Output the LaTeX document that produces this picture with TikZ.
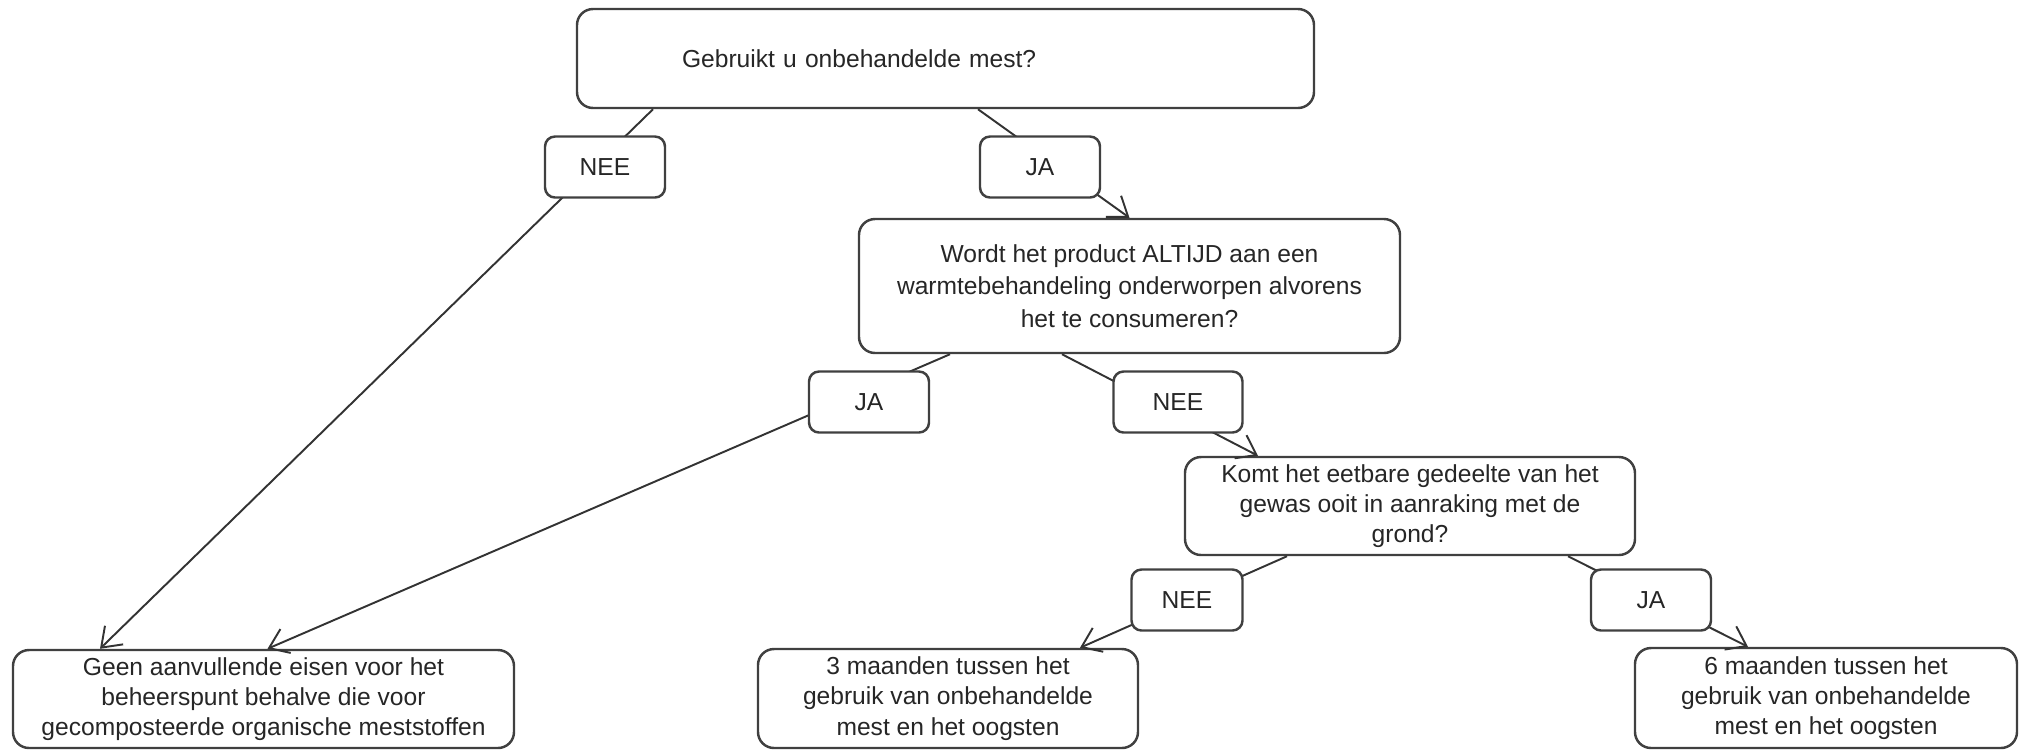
\documentclass[tikz,border=0pt]{standalone}
\usepackage{fontspec}
\setmainfont{Liberation Sans}
\usetikzlibrary{arrows.meta}

\begin{document}
\begin{tikzpicture}[x=1mm, y=-1mm, >={Straight Barb[length=1.8mm, width=2.6mm]},
  every node/.style={font=\fontsize{7}{8.6}\selectfont, text=black!85},
  question/.style={rectangle, rounded corners=1.6mm, draw=black!75, line width=0.7pt, fill=white, align=center, inner sep=0pt},
  outcome/.style={question},
  answer/.style={rectangle, rounded corners=1mm, draw=black!75, line width=0.7pt, fill=white, minimum width=12mm, minimum height=6.1mm, inner sep=0pt},
  link/.style={->, draw=black!80, line width=0.55pt}]
  \useasboundingbox (0,0) rectangle (202.6,75);

  \node[question, minimum width=73.7mm, minimum height=9.9mm, text width=52.7mm, inner xsep=10.5mm, align=left] (q1) at (94.55,5.85) {Gebruikt u onbehandelde mest?};
  \node[question, minimum width=54.1mm, minimum height=13.4mm, font=\fontsize{7}{9.2}\selectfont] (q2) at (112.95,28.6) {Wordt het product ALTIJD aan een\\warmtebehandeling onderworpen alvorens\\het te consumeren?};
  \node[question, minimum width=45mm, minimum height=9.8mm] (q3) at (141.0,50.6) {Komt het eetbare gedeelte van het\\gewas ooit in aanraking met de\\grond?};

  \node[outcome, minimum width=50.1mm, minimum height=9.8mm] (a1) at (26.35,69.9) {Geen aanvullende eisen voor het\\beheerspunt behalve die voor\\gecomposteerde organische meststoffen};
  \node[outcome, minimum width=38mm, minimum height=9.9mm] (a2) at (94.8,69.85) {3 maanden tussen het\\gebruik van onbehandelde\\mest en het oogsten};
  \node[outcome, minimum width=38.2mm, minimum height=10mm] (a3) at (182.6,69.8) {6 maanden tussen het\\gebruik van onbehandelde\\mest en het oogsten};

  \path ([xshift=-29.25mm]q1.south) edge[link] ([xshift=-16.35mm]a1.north)
        ([xshift=3.25mm]q1.south) edge[link] (q2.north)
        ([xshift=-17.95mm]q2.south) edge[link] ([xshift=0.4mm]a1.north)
        ([xshift=-6.75mm]q2.south) edge[link] ([xshift=-15.2mm]q3.north)
        ([xshift=-12.3mm]q3.south) edge[link] ([xshift=13.2mm]a2.north)
        ([xshift=15.8mm]q3.south) edge[link] ([xshift=-7.8mm]a3.north);

  % labels on the connectors
  \node[answer] (nee1) at (60.5,16.7) {NEE};
  \node[answer] (ja1) at (104.0,16.7) {JA};
  \node[answer] (ja2) at (86.9,40.2) {JA};
  \node[answer, minimum width=12.9mm] (nee2) at (117.8,40.2) {NEE};
  \node[answer, minimum width=11.1mm] (nee3) at (118.7,60.0) {NEE};
  \node[answer] (ja3) at (165.1,60.0) {JA};
\end{tikzpicture}
\end{document}
